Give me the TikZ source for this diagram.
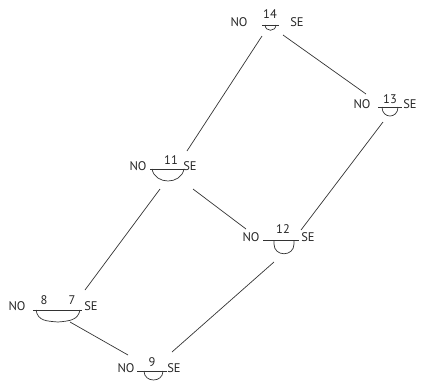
\documentclass[tikz,border=0pt]{standalone}
\usepackage{fontspec}
\setmainfont{PT Sans}
\usetikzlibrary{calc}
\begin{document}
\begin{tikzpicture}[x=1pt,y=-1pt,
  lbl/.style={font=\fontsize{12.5}{14}\selectfont, inner sep=0pt, text=black!85},
  vtx/.style={shape=coordinate},
  edge/.style={draw=black!80, line width=0.7pt},
  bar/.style={draw=black!80, line width=0.7pt},
  cup/.style={draw=black!80, line width=0.7pt}]
\useasboundingbox (0,0) rectangle (424,383);

% ---- vertex 14
\node[vtx] (v14) at (270.5,25) {};
\node[lbl] (no14) at (239,22) {NO};
\node[lbl] (n14) at (270,14) {14};
\node[lbl] (se14) at (297,22) {SE};
\draw[bar] (262,25) -- (279,25);
\draw[cup] (265,25) .. controls (265.5,32) and (275.5,32) .. (276,25);

% ---- vertex 13
\node[vtx] (v13) at (390,107) {};
\node[lbl] (no13) at (362,104) {NO};
\node[lbl] (n13) at (390,99) {13};
\node[lbl] (se13) at (410,104) {SE};
\draw[bar] (378,107) -- (402,107);
\draw[cup] (382,107) .. controls (382,119) and (398,119) .. (398,107);

% ---- vertex 11
\node[vtx] (v11) at (167,169) {};
\node[lbl] (no11) at (138,166) {NO};
\node[lbl] (n11) at (171,160) {11};
\node[lbl] (se11) at (190,166) {SE};
\draw[bar] (150,169) -- (184,169);
\draw[cup] (152,169) .. controls (155,185) and (181,185) .. (184,169);

% ---- vertex 12
\node[vtx] (v12) at (281,240) {};
\node[lbl] (no12) at (251,237) {NO};
\node[lbl] (n12) at (283,229) {12};
\node[lbl] (se12) at (308,237) {SE};
\draw[bar] (263,240) -- (299,240);
\draw[cup] (274,240) -- (274,244) .. controls (274,257) and (294,257) .. (294,244) -- (294,240);

% ---- vertex 8 7
\node[vtx] (v87) at (57.5,310) {};
\node[lbl] (no87) at (17,306) {NO};
\node[lbl] (n8) at (44,300) {8};
\node[lbl] (n7) at (72,300) {7};
\node[lbl] (se87) at (91,306) {SE};
\draw[bar] (33,310) -- (82,310);
\draw[cup] (36,310) .. controls (38,321) and (46,321) .. (58,322)
  .. controls (70,321) and (78,320) .. (80,310);

% ---- vertex 9
\node[vtx] (v9) at (152,371) {};
\node[lbl] (no9) at (126,368) {NO};
\node[lbl] (n9) at (152,362) {9};
\node[lbl] (se9) at (174,368) {SE};
\draw[bar] (137,371) -- (167,371);
\draw[cup] (144,371) .. controls (144,383) and (163,383) .. (163,371);

% ---- connectors
\draw[edge] ($(v14)+(-8.5,11)$) -- ($(v11)+(20,-18)$);
\draw[edge] ($(v14)+(12.5,10)$) -- ($(v13)+(-24,-13)$);
\draw[edge] ($(v11)+(-7,20)$) -- ($(v87)+(27.5,-20)$);
\draw[edge] ($(v11)+(26,20)$) -- ($(v12)+(-35,-11)$);
\draw[edge] ($(v13)+(-7,15)$) -- ($(v12)+(20,-10)$);
\draw[edge] ($(v12)+(-7,22)$) -- ($(v9)+(20,-19)$);
\draw[edge] ($(v87)+(12.5,12)$) -- ($(v9)+(-24,-16)$);
\end{tikzpicture}
\end{document}
